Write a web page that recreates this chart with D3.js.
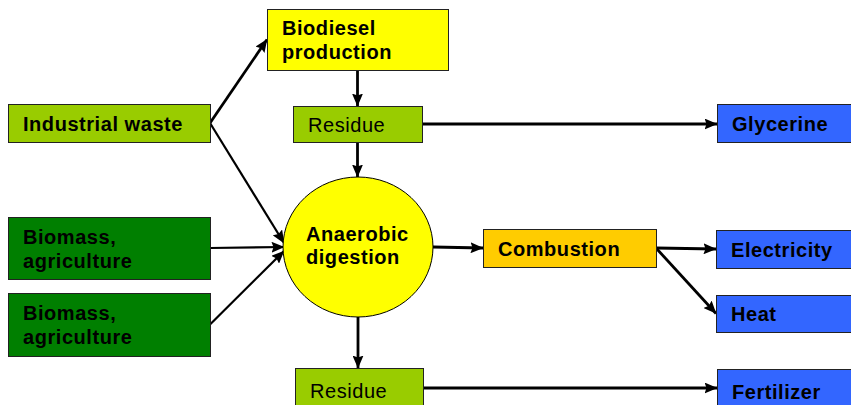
<!DOCTYPE html>
<html>
<head>
<meta charset="utf-8">
<script src="https://cdn.jsdelivr.net/npm/d3@7"></script>
<style>
html,body{margin:0;padding:0;background:#fff;}
svg{display:block;}
</style>
</head>
<body>
<svg id="chart" width="851" height="405"></svg>
<script>
// ---- data ----
const nodeIds    = ["iw","bio1","bio2","biod","res1","ad","comb","res2","gly","elec","heat","fert"];
const nodeLabels = [["Industrial waste"],["Biomass,","agriculture"],["Biomass,","agriculture"],["Biodiesel","production"],["Residue"],["Anaerobic","digestion"],["Combustion"],["Residue"],["Glycerine"],["Electricity"],["Heat"],["Fertilizer"]];
const nodeKinds  = ["waste","biomass","biomass","process","residue","digester","combust","residue","product","product","product","product"];
const linkSources = ["iw","iw","bio1","bio2","biod","res1","res1","ad","comb","comb","ad","res2"];
const linkTargets = ["biod","ad","ad","ad","res1","ad","gly","comb","elec","heat","res2","fert"];

// ---- layout & style (separate from data) ----
const layout = {
  iw:{x:8,y:104,w:202,h:38}, bio1:{x:8,y:217,w:202,h:62}, bio2:{x:8,y:293,w:202,h:63},
  biod:{x:267,y:9,w:181,h:61}, res1:{x:293,y:106,w:129,h:36},
  ad:{cx:358,cy:247,rx:75,ry:70,ellipse:true},
  comb:{x:483,y:229,w:173,h:38}, res2:{x:295,y:368,w:128,h:44},
  gly:{x:717,y:104,w:150,h:38}, elec:{x:716,y:230,w:150,h:38},
  heat:{x:716,y:295,w:150,h:37}, fert:{x:717,y:369,w:150,h:44}
};
const style = {
  waste:{fill:"#99CC00",weight:"bold"}, biomass:{fill:"#007F00",weight:"bold"},
  process:{fill:"#FFFF00",weight:"bold"}, residue:{fill:"#99CC00",weight:"normal"},
  digester:{fill:"#FFFF00",weight:"bold"}, combust:{fill:"#FFCC00",weight:"bold"},
  product:{fill:"#3366FF",weight:"bold"}
};
const anchorMap = {
  "iw>biod":["right","left"],"iw>ad":["right","left",-4],"bio1>ad":["right","left",0],"bio2>ad":["right","left",4],
  "biod>res1":["bottom","top"],"res1>ad":["bottom","top"],"res1>gly":["right","left"],
  "ad>comb":["right","left"],"comb>elec":["right","left"],"comb>heat":["right","left"],
  "ad>res2":["bottom","top"],"res2>fert":["right","left"]
};
const thinLinks = ["bio1>ad","bio2>ad","iw>ad"];

function anchor(id, side, off){
  const n = layout[id]; off = off||0;
  if(n.ellipse){
    if(side==="left") return [n.cx-n.rx+1, n.cy+off];
    if(side==="right") return [n.cx+n.rx, n.cy];
    if(side==="top") return [n.cx, n.cy-n.ry];
    return [n.cx, n.cy+n.ry];
  }
  if(side==="left") return [n.x, n.y+n.h/2+off];
  if(side==="right") return [n.x+n.w, n.y+n.h/2];
  if(side==="top") return [n.x+n.w/2, n.y];
  return [n.x+n.w/2, n.y+n.h];
}
function centerX(id){const n=layout[id];return n.ellipse?n.cx:n.x+n.w/2;}

const svg = d3.select("#chart");
const defs = svg.append("defs");
defs.append("marker").attr("id","arrow").attr("markerUnits","userSpaceOnUse")
  .attr("viewBox","0 0 13 11").attr("refX",12.5).attr("refY",5.5)
  .attr("markerWidth",13).attr("markerHeight",11).attr("orient","auto")
  .append("path").attr("d","M0,0 L13,5.5 L0,11 L2,5.5 Z").attr("fill","#000");

// links
const links = linkSources.map((s,i)=>({s, t:linkTargets[i]}));
svg.append("g").selectAll("line").data(links).join("line")
  .each(function(d){
    const key = d.s+">"+d.t, a = anchorMap[key];
    let p0 = anchor(d.s,a[0]); let p1 = anchor(d.t,a[1],a[2]);
    if(a[0]==="bottom" && a[1]==="top"){ p0=[centerX(d.s),p0[1]]; p1=[centerX(d.s),p1[1]]; }
    if(key==="res1>gly"){ p1=[p1[0],p0[1]]; }
    if(key==="res2>fert"){ p0=[p0[0],388]; p1=[p1[0],388]; }
    d3.select(this).attr("x1",p0[0]).attr("y1",p0[1]).attr("x2",p1[0]).attr("y2",p1[1])
      .attr("stroke-width", thinLinks.includes(key)?2.2:2.8);
  })
  .attr("stroke","#000").attr("marker-end","url(#arrow)");

// nodes
const nodes = nodeIds.map((id,i)=>({id, label:nodeLabels[i], kind:nodeKinds[i]}));
const g = svg.append("g").selectAll("g").data(nodes).join("g");
g.each(function(d){
  const n = layout[d.id], st = style[d.kind], sel = d3.select(this);
  let tx, cy;
  if(n.ellipse){
    sel.append("ellipse").attr("cx",n.cx).attr("cy",n.cy).attr("rx",n.rx).attr("ry",n.ry)
      .attr("fill",st.fill).attr("stroke","#000").attr("stroke-width",1);
    tx = n.cx-n.rx+23; cy = n.cy-2;
  } else {
    sel.append("rect").attr("x",n.x+0.5).attr("y",n.y+0.5).attr("width",n.w).attr("height",n.h)
      .attr("fill",st.fill).attr("stroke","#222").attr("stroke-width",1);
    tx = n.x+15; cy = n.y+n.h/2;
  }
  const lh = n.ellipse?23:24;
  const t = sel.append("text").attr("font-family","Liberation Sans, Arial, sans-serif")
    .attr("font-size",20).attr("font-weight",st.weight).attr("letter-spacing",0.55).attr("fill","#000");
  const k = d.label.length;
  d.label.forEach((line,j)=>{
    t.append("tspan").attr("x",tx).attr("y",cy + 7.5 + (j-(k-1)/2)*lh).text(line);
  });
});
</script>
</body>
</html>
